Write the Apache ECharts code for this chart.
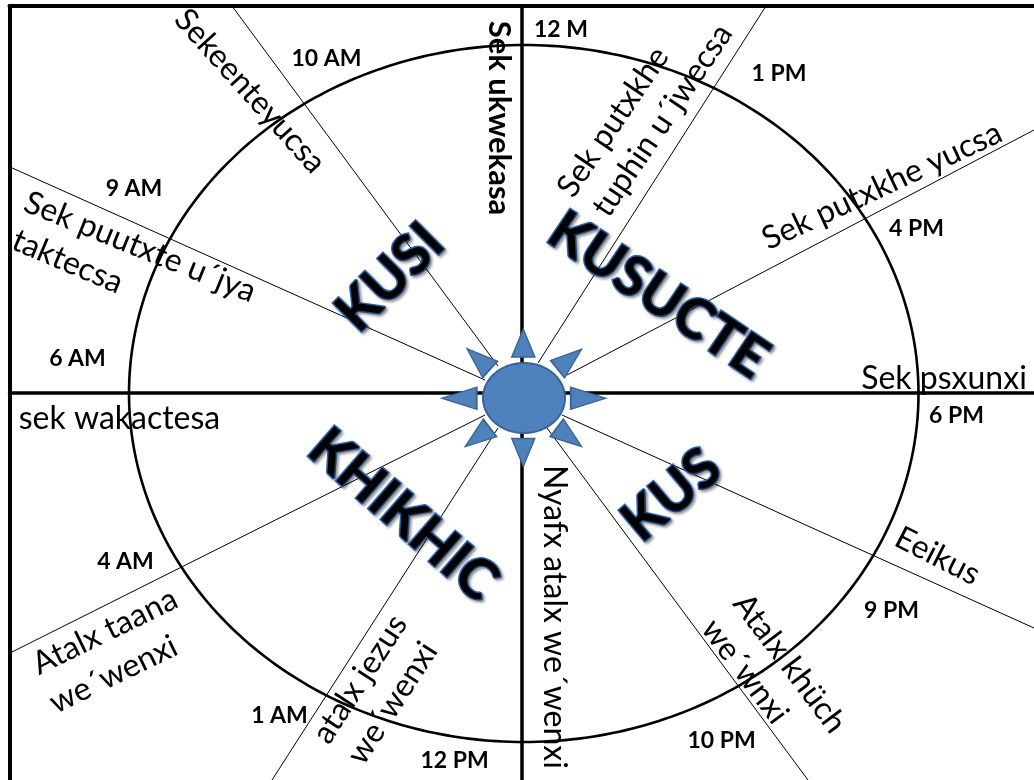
<!DOCTYPE html>
<html><head><meta charset="utf-8">
<script src="https://cdn.jsdelivr.net/npm/echarts@6/dist/echarts.min.js"></script>
<style>html,body{margin:0;padding:0;background:#fff}#c{width:1034px;height:780px}</style>
</head><body><div id="c"></div>
<script>
// ---------- data (diagram units: origin at the centre cross, y up) ----------
const hourLabels = ['12 M','10 AM','9 AM','6 AM','1 PM','4 PM','6 PM','9 PM','10 PM','12 PM','1 AM','4 AM'];
const hourX = [39, -195.5, -388, -444.5, 257, 394.5, 434.5, 369.5, 199.5, -67.5, -242.5, -396.5];
const hourY = [363, 334, 204, 34.5, 319, 164.5, -22.5, -217.5, -347.5, -367.5, -322.5, -168.5];

const nameLines = ['Sek ukwekasa','Sekeenteyucsa','Sek puutxte u\u00b4jya','taktecsa','sek wakactesa',
  'Atalx taana','we\u00b4wenxi','atalx jezus','we\u00b4wenxi','Nyafx atalx we\u00b4wenxi',
  'Atalx kh\u00fcch','we\u00b4wnxi','Eeikus','Sek psxunxi','Sek putxkhe yucsa','Sek putxkhe','tuphin u\u00b4jwecsa'];
const nameX = [-23, -272, -382, -454.5, -402.5, -417, -408.5, -162, -129.5, 32, 267.5, 223, 415.5, 422, 360, 91, 140.5];
const nameY = [275, 302, 146, 131.5, -26, -238.5, -281.5, -286, -310, -224, -270.5, -278.5, -163, 14, 207, 271, 272.5];
const nameAngle = [-90, -48, -22, -23, 0, 26, 26, 57, 57, -90, -53, -53, -27, 0, 25, 56, 56];

const regionNames = ['KUSI','KUSUCTE','KHIKHIC','KUS'];
const regionX = [-132, 136, -119, 149.5];
const regionY = [115.5, 98, -122, -102];
const regionAngle = [45, -34, -41, 40];

// dividing rays: start near the sun, end at the frame
const rayStartX = [-24, -37, 16, 45, 40, 25, -24, -37];
const rayStartY = [27, 13, 30, 18, -22, -35, -35, -22];
const rayEndX = [-290, -512, 244, 512, 512, 286, -250, -512];
const rayEndY = [387, 226, 387, 263, -235, -387, -387, -260];

// day ellipse and sun
const dayEllipse = [1.75, -0.5, 394.75, 348.5];
const sunBody = [2, -5, 41, 35];
const sunRayX = [1.3, 1.3, -62.8, 66.3, -43.5, 47.6, -44.5, 47.2];
const sunRayY = [50, -59.5, -5.3, -5.3, 34, 33.8, -44.3, -44.2];
const sunRayDir = [90, -90, 180, 0, 138, 39.4, -142.9, -37.1];

// ---------- chart ----------
const FONT = 'Lato, "Open Sans", sans-serif';
const chart = echarts.init(document.getElementById('c'), null, {renderer: 'canvas'});

function ellipseRender(style) {
  return function (params, api) {
    const c = api.coord([api.value(0), api.value(1)]);
    const s = api.size([api.value(2), api.value(3)]);
    const pts = [];
    for (let i = 0; i < 360; i++) {
      const t = i / 360 * Math.PI * 2;
      pts.push([c[0] + s[0] * Math.cos(t), c[1] + s[1] * Math.sin(t)]);
    }
    return {type: 'polygon', shape: {points: pts}, style: style};
  };
}

function triSize(dir) {
  const a = ((dir % 180) + 180) % 180;
  if (Math.abs(a - 90) < 1) return [23, 28];
  if (a < 1 || a > 179) return [22, 35];
  return [22, 31];
}

const axisHidden = {axisTick: {show: false}, axisLabel: {show: false}, splitLine: {show: false}};
const XMIN = -512.5, XMAX = 512, YMIN = -387, YMAX = 387;

const option = {
  animation: false,
  backgroundColor: '#fff',
  grid: {left: 9.5, top: 6, right: 0, bottom: 0, containLabel: false},
  xAxis: [
    Object.assign({type: 'value', min: XMIN, max: XMAX,
      axisLine: {show: true, onZero: true, onZeroAxisIndex: 0, lineStyle: {color: '#000', width: 3.5}}}, axisHidden),
    Object.assign({type: 'value', min: XMIN, max: XMAX, position: 'top',
      axisLine: {show: true, onZero: false, lineStyle: {color: '#000', width: 4}}}, axisHidden)
  ],
  yAxis: [
    Object.assign({type: 'value', min: YMIN, max: YMAX,
      axisLine: {show: true, onZero: true, onZeroAxisIndex: 0, lineStyle: {color: '#000', width: 3.5}}}, axisHidden),
    Object.assign({type: 'value', min: YMIN, max: YMAX, position: 'left',
      axisLine: {show: true, onZero: false, lineStyle: {color: '#000', width: 4}}}, axisHidden)
  ],
  series: [
    {
      type: 'custom', name: 'rays', z: 1, silent: true,
      data: rayStartX.map((v, i) => [v, rayStartY[i], rayEndX[i], rayEndY[i]]),
      renderItem: function (params, api) {
        const a = api.coord([api.value(0), api.value(1)]);
        const b = api.coord([api.value(2), api.value(3)]);
        return {type: 'line', shape: {x1: a[0], y1: a[1], x2: b[0], y2: b[1]},
          style: {stroke: '#000', lineWidth: 1}};
      }
    },
    {
      type: 'custom', name: 'day', z: 2, silent: true,
      data: [dayEllipse],
      renderItem: ellipseRender({fill: 'none', stroke: '#000', lineWidth: 2.6})
    },
    {
      type: 'custom', name: 'sun', z: 3, silent: true,
      data: [sunBody],
      renderItem: ellipseRender({fill: '#4F81BD', stroke: '#3A6494', lineWidth: 2})
    },
    {
      type: 'scatter', name: 'sunRays', z: 3, silent: true,
      symbol: 'triangle',
      itemStyle: {color: '#4F81BD', borderColor: '#3A6494', borderWidth: 1.5, opacity: 1},
      data: sunRayX.map((v, i) => ({
        value: [v, sunRayY[i]],
        symbolRotate: sunRayDir[i] - 90,
        symbolSize: triSize(sunRayDir[i])
      }))
    },
    {
      type: 'custom', name: 'hours', z: 5, silent: true,
      data: hourLabels.map((t, i) => [hourX[i], hourY[i], i]),
      renderItem: function (params, api) {
        const p = api.coord([api.value(0), api.value(1)]);
        return {type: 'text', x: p[0], y: p[1],
          style: {text: hourLabels[api.value(2)], fill: '#000', font: 'bold 23px ' + FONT,
            align: 'center', verticalAlign: 'middle'}};
      }
    },
    {
      type: 'custom', name: 'names', z: 5, silent: true,
      data: nameLines.map((t, i) => [nameX[i], nameY[i], i]),
      renderItem: function (params, api) {
        const i = api.value(2);
        const p = api.coord([api.value(0), api.value(1)]);
        const bold = i === 0;
        return {type: 'text', x: p[0], y: p[1], rotation: nameAngle[i] * Math.PI / 180,
          style: {text: nameLines[i], fill: '#000',
            font: (bold ? 'bold 31px ' : '32px ') + FONT,
            align: 'center', verticalAlign: 'middle'}};
      }
    },
    {
      type: 'custom', name: 'regions', z: 6, silent: true,
      data: regionNames.map((t, i) => [regionX[i], regionY[i], i]),
      renderItem: function (params, api) {
        const i = api.value(2);
        const p = api.coord([api.value(0), api.value(1)]);
        return {type: 'text', x: p[0], y: p[1], rotation: regionAngle[i] * Math.PI / 180,
          style: {text: regionNames[i], fill: '#000', stroke: '#2A62AE', lineWidth: 3,
            strokeFirst: true,
            font: 'bold 55px ' + FONT, align: 'center', verticalAlign: 'middle',
            textShadowColor: 'rgba(0,0,0,0.35)', textShadowBlur: 3,
            textShadowOffsetX: 2, textShadowOffsetY: 2}};
      }
    }
  ]
};
chart.setOption(option);
</script></body></html>
